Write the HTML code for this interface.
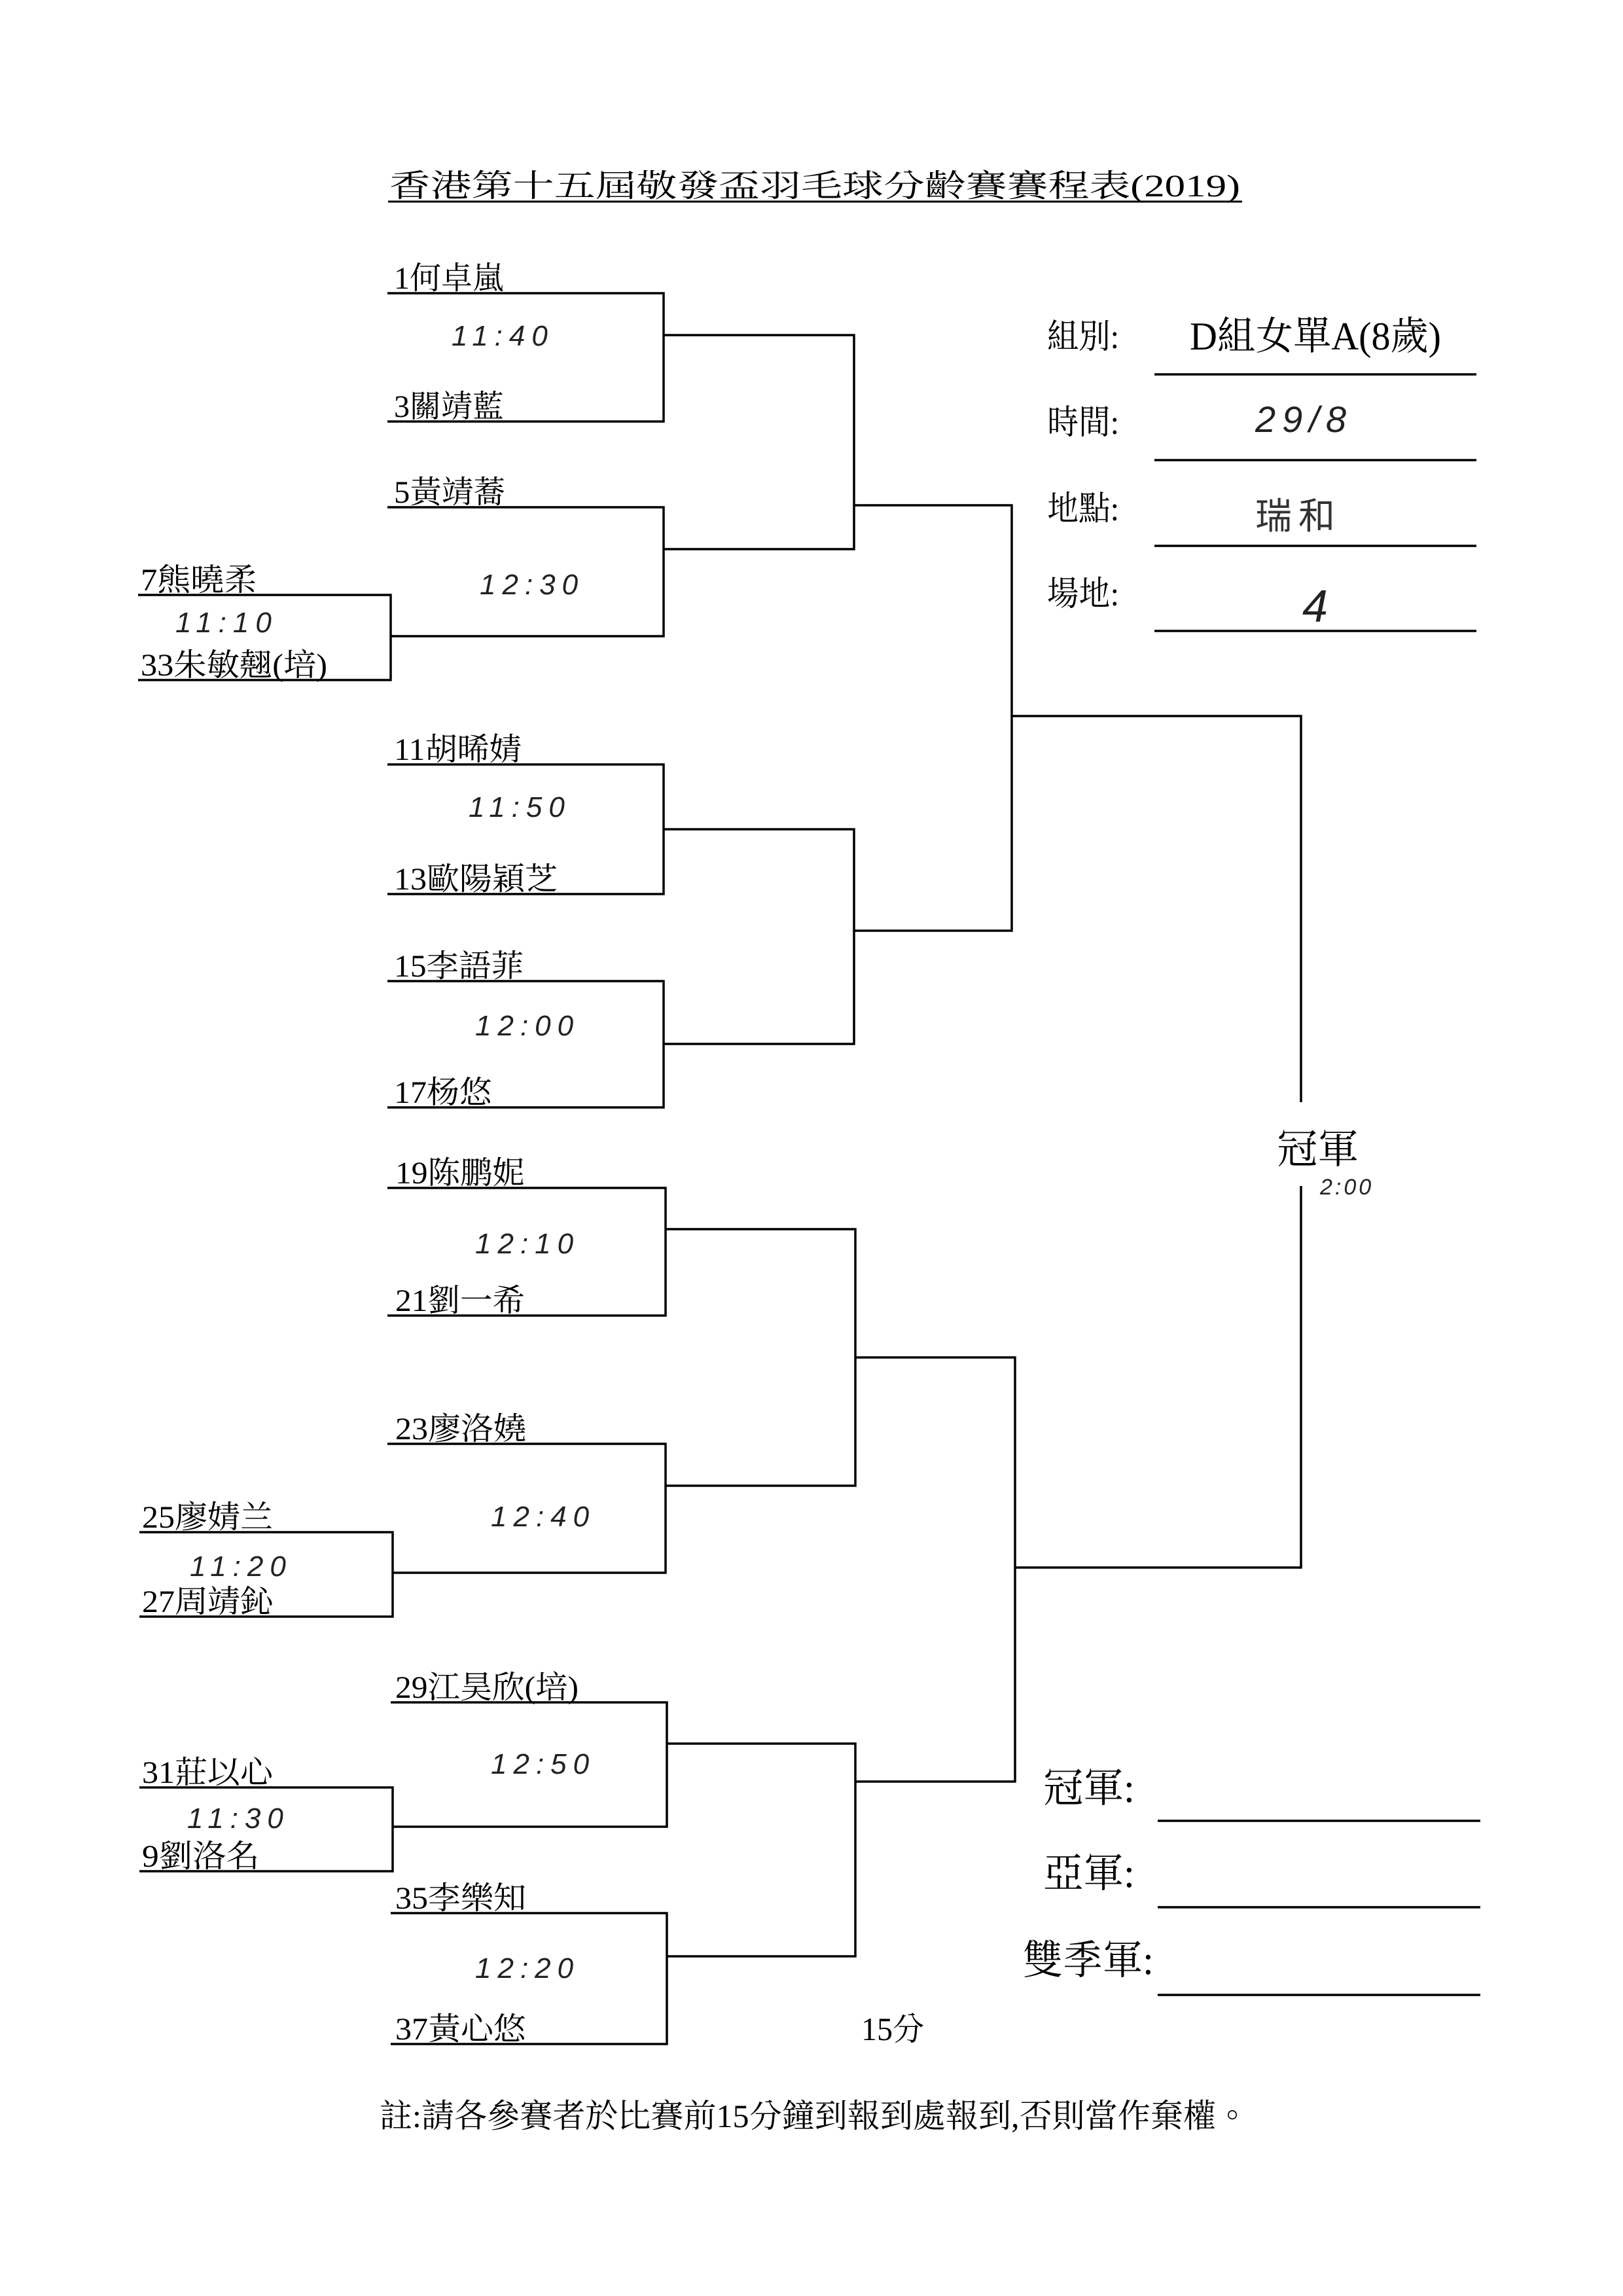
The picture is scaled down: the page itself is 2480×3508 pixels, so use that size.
<!DOCTYPE html>
<html><head><meta charset="utf-8">
<style>
html,body{margin:0;padding:0;background:#fff;}
svg{display:block;}
.n{font-family:"Liberation Serif","Noto Serif CJK TC","Noto Serif CJK SC",serif;font-size:48px;fill:#000;}
.h{font-family:"Liberation Sans",sans-serif;font-style:italic;font-size:44px;fill:#222;letter-spacing:10px;}
</style></head><body>
<svg width="2480" height="3508" viewBox="0 0 2480 3508" xmlns="http://www.w3.org/2000/svg">
<rect width="2480" height="3508" fill="#fff"/>
<text class="n" x="595" y="300" font-size="64" textLength="1300" lengthAdjust="spacingAndGlyphs">香港第十五屆敬發盃羽毛球分齡賽賽程表(2019)</text>
<line x1="593" y1="308" x2="1898" y2="308" stroke="#000" stroke-width="3"/>

<g stroke="#000" stroke-width="3.5" fill="none">
<polyline points="592,448 1014,448 1014,644 592,644"/>
<polyline points="592,775 1014,775 1014,972 597,972"/>
<polyline points="211,909 597,909 597,1039 211,1039"/>
<polyline points="592,1168 1014,1168 1014,1366 592,1366"/>
<polyline points="592,1499 1014,1499 1014,1692 592,1692"/>
<polyline points="1014,512 1305,512 1305,839 1014,839"/>
<polyline points="1014,1267 1305,1267 1305,1595 1014,1595"/>
<polyline points="1305,772 1546,772 1546,1422 1305,1422"/>
<polyline points="592,1815 1017,1815 1017,2010 592,2010"/>
<polyline points="592,2206 1017,2206 1017,2403 600,2403"/>
<polyline points="213,2341 600,2341 600,2470 213,2470"/>
<polyline points="597,2601 1019,2601 1019,2791 600,2791"/>
<polyline points="213,2731 600,2731 600,2859 213,2859"/>
<polyline points="597,2923 1019,2923 1019,3123 597,3123"/>
<polyline points="1017,1878 1307,1878 1307,2270 1017,2270"/>
<polyline points="1019,2664 1307,2664 1307,2989 1019,2989"/>
<polyline points="1307,2074 1551,2074 1551,2722 1307,2722"/>
<polyline points="1546,1094 1988,1094 1988,1684"/>
<polyline points="1988,1812 1988,2395 1551,2395"/>
<line x1="1764" y1="572" x2="2256" y2="572"/>
<line x1="1764" y1="703" x2="2256" y2="703"/>
<line x1="1764" y1="834" x2="2256" y2="834"/>
<line x1="1764" y1="964" x2="2256" y2="964"/>
<line x1="1769" y1="2782" x2="2262" y2="2782"/>
<line x1="1769" y1="2914" x2="2262" y2="2914"/>
<line x1="1769" y1="3048" x2="2262" y2="3048"/>
</g>

<g class="n">
<text x="602" y="441" textLength="168" lengthAdjust="spacingAndGlyphs">1何卓嵐</text>
<text x="602" y="637" textLength="168" lengthAdjust="spacingAndGlyphs">3關靖藍</text>
<text x="602" y="768" textLength="170" lengthAdjust="spacingAndGlyphs">5黃靖蕎</text>
<text x="215" y="902" textLength="178" lengthAdjust="spacingAndGlyphs">7熊曉柔</text>
<text x="215" y="1032" textLength="285" lengthAdjust="spacingAndGlyphs">33朱敏翹(培)</text>
<text x="602" y="1161" textLength="195" lengthAdjust="spacingAndGlyphs">11胡晞婧</text>
<text x="602" y="1359" textLength="250" lengthAdjust="spacingAndGlyphs">13歐陽穎芝</text>
<text x="602" y="1492" textLength="198" lengthAdjust="spacingAndGlyphs">15李語菲</text>
<text x="602" y="1685" textLength="150" lengthAdjust="spacingAndGlyphs">17杨悠</text>
<text x="604" y="1808" textLength="198" lengthAdjust="spacingAndGlyphs">19陈鹏妮</text>
<text x="604" y="2003" textLength="198" lengthAdjust="spacingAndGlyphs">21劉一希</text>
<text x="604" y="2199" textLength="200" lengthAdjust="spacingAndGlyphs">23廖洛嬈</text>
<text x="217" y="2334" textLength="200" lengthAdjust="spacingAndGlyphs">25廖婧兰</text>
<text x="217" y="2463" textLength="200" lengthAdjust="spacingAndGlyphs">27周靖鈊</text>
<text x="604" y="2594" textLength="280" lengthAdjust="spacingAndGlyphs">29江昊欣(培)</text>
<text x="217" y="2724" textLength="200" lengthAdjust="spacingAndGlyphs">31莊以心</text>
<text x="217" y="2852" textLength="180" lengthAdjust="spacingAndGlyphs">9劉洛名</text>
<text x="604" y="2916" textLength="200" lengthAdjust="spacingAndGlyphs">35李樂知</text>
<text x="604" y="3116" textLength="200" lengthAdjust="spacingAndGlyphs">37黃心悠</text>

<text x="1600" y="532" font-size="52" textLength="110" lengthAdjust="spacingAndGlyphs">組別:</text>
<text x="1818" y="534" font-size="60" textLength="384" lengthAdjust="spacingAndGlyphs">D組女單A(8歲)</text>
<text x="1600" y="663" font-size="52" textLength="110" lengthAdjust="spacingAndGlyphs">時間:</text>
<text x="1600" y="795" font-size="52" textLength="110" lengthAdjust="spacingAndGlyphs">地點:</text>
<text x="1600" y="925" font-size="52" textLength="110" lengthAdjust="spacingAndGlyphs">場地:</text>
<text x="1951" y="1777" font-size="62" textLength="125" lengthAdjust="spacingAndGlyphs">冠軍</text>

<text x="1594" y="2753" font-size="62" textLength="140" lengthAdjust="spacingAndGlyphs">冠軍:</text>
<text x="1594" y="2883" font-size="62" textLength="140" lengthAdjust="spacingAndGlyphs">亞軍:</text>
<text x="1563" y="3016" font-size="62" textLength="200" lengthAdjust="spacingAndGlyphs">雙季軍:</text>
<text x="1316" y="3117" font-size="50" textLength="96" lengthAdjust="spacingAndGlyphs">15分</text>
<text x="580" y="3250" font-size="50" textLength="1328" lengthAdjust="spacingAndGlyphs">註:請各參賽者於比賽前15分鐘到報到處報到,否則當作棄權。</text>
</g>

<g class="h">
<text x="690" y="528">11:40</text>
<text x="733" y="908">12:30</text>
<text x="268" y="966">11:10</text>
<text x="716" y="1248">11:50</text>
<text x="726" y="1582">12:00</text>
<text x="726" y="1915">12:10</text>
<text x="750" y="2332">12:40</text>
<text x="290" y="2408">11:20</text>
<text x="750" y="2710">12:50</text>
<text x="286" y="2793">11:30</text>
<text x="726" y="3022">12:20</text>
<text x="2017" y="1825" font-size="34" letter-spacing="4">2:00</text>
<text x="1918" y="660" font-size="56">29/8</text>
<text x="1918" y="808" font-size="56" font-family="'Noto Sans CJK SC',sans-serif" font-style="normal" fill="#333">瑞和</text>
<text x="1990" y="950" font-size="70">4</text>
</g>
</svg>
</body></html>
